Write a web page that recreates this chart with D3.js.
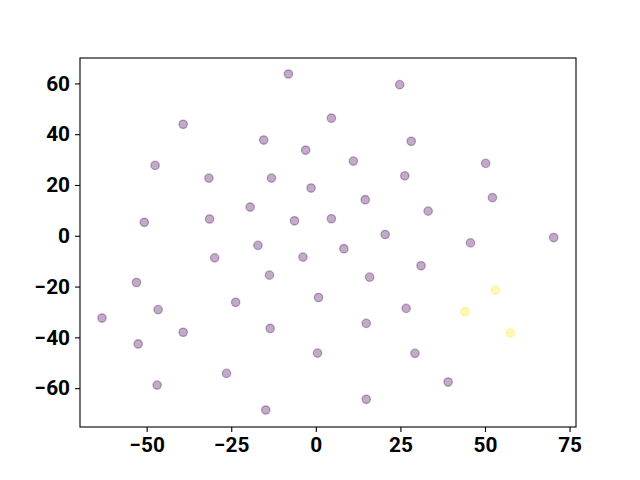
<!DOCTYPE html>
<html><head><meta charset="utf-8">
<script src="https://cdn.jsdelivr.net/npm/d3@7"></script>
<style>body{margin:0;background:#fff}svg{display:block}</style>
</head><body>
<script>
const xVals = [-8.1,-39.2,-15.4,-3.0,-47.5,-31.6,-13.1,-1.4,-19.4,-50.7,-31.4,-6.3,4.6,4.6,24.8,28.2,11.1,50.2,26.3,14.6,52.2,33.2,20.5,70.3,-17.1,-29.9,-3.8,-13.7,-53.0,0.8,-23.7,-63.2,-46.6,-13.5,-39.2,-52.5,0.5,-26.4,-46.9,-14.8,45.7,8.3,31.1,15.9,26.7,14.9,29.3,39.1,14.9,53.1,44.1,57.5];
const yVals = [63.7,43.9,37.7,33.7,27.7,22.7,22.7,18.8,11.3,5.3,6.6,5.9,46.3,6.7,59.5,37.2,29.4,28.5,23.6,14.2,15.0,9.7,0.5,-0.7,-3.8,-8.7,-8.4,-15.5,-18.4,-24.3,-26.2,-32.4,-29.1,-36.5,-38.0,-42.6,-46.2,-54.2,-58.8,-68.6,-2.8,-5.1,-11.8,-16.3,-28.6,-34.5,-46.3,-57.6,-64.4,-21.4,-29.9,-38.3];
const classes = [0,0,0,0,0,0,0,0,0,0,0,0,0,0,0,0,0,0,0,0,0,0,0,0,0,0,0,0,0,0,0,0,0,0,0,0,0,0,0,0,0,0,0,0,0,0,0,0,0,1,1,1];
const xTicks = [-50,-25,0,25,50,75];
const yTicks = [-60,-40,-20,0,20,40,60];
const classColors = ["#440154","#fde725"];

const W = 640, H = 480;
const L = 80, R = 576, T = 58, B = 427;
const svg = d3.select("body").append("svg").attr("width", W).attr("height", H);
const x = d3.scaleLinear().domain([-69.7, 76.9]).range([L, R]);
const y = d3.scaleLinear().domain([-75.3, 70.0]).range([B, T]);

svg.append("g").selectAll("circle").data(xVals.map((v,i)=>({x:v,y:yVals[i],c:classes[i]})))
  .join("circle")
  .attr("cx", d=>x(d.x)).attr("cy", d=>y(d.y)).attr("r", 4.2)
  .attr("fill", d=>classColors[d.c]).attr("fill-opacity", 0.33)
  .attr("stroke", d=>classColors[d.c]).attr("stroke-opacity", 0.33).attr("stroke-width", 1.3);

const font = "Roboto, 'DejaVu Sans', sans-serif";
const xAxis = svg.append("g").attr("transform", `translate(0,${B})`)
  .call(d3.axisBottom(x).tickValues(xTicks).tickSize(5).tickPadding(5).tickFormat(d=>d3.format("")(d).replace("-","\u2212")));
const yAxis = svg.append("g").attr("transform", `translate(${L},0)`)
  .call(d3.axisLeft(y).tickValues(yTicks).tickSize(5).tickPadding(5).tickFormat(d=>d3.format("")(d).replace("-","\u2212")));
[xAxis, yAxis].forEach(g=>{
  g.select(".domain").remove();
  g.selectAll("line").attr("stroke","#000").attr("stroke-width",1.1);
  g.selectAll("text").attr("font-family", font).attr("font-weight","bold").attr("font-size","20.8px").attr("fill","#000");
});
xAxis.selectAll("text").attr("dy","0.74em");
svg.append("rect").attr("x", L).attr("y", T).attr("width", R-L).attr("height", B-T)
  .attr("fill","none").attr("stroke","#000").attr("stroke-width",1.1);
</script>
</body></html>
